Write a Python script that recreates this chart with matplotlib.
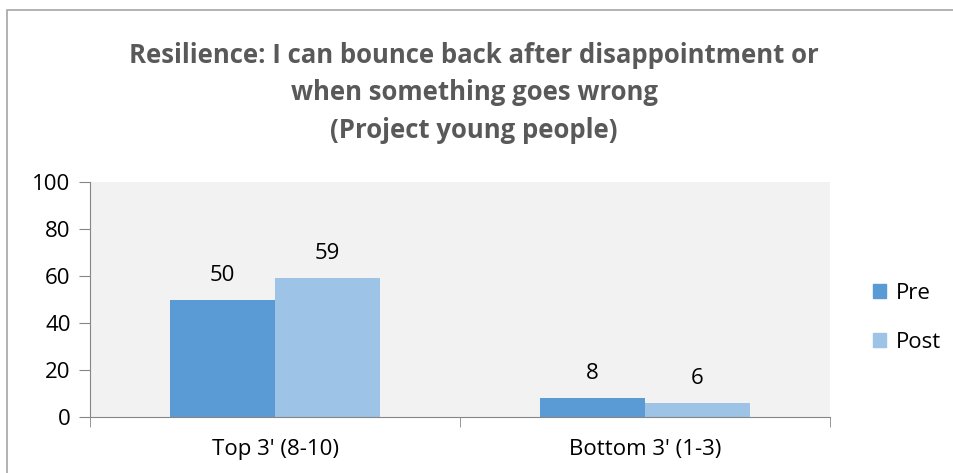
import matplotlib
matplotlib.use("Agg")
import matplotlib.pyplot as plt
from matplotlib.patches import Rectangle, Patch
import numpy as np

categories = ["Top 3' (8-10)", "Bottom 3' (1-3)"]
pre = [50, 8]
post = [59, 6]
series_names = ["Pre", "Post"]
y_ticks = [0, 20, 40, 60, 80, 100]

plt.rcParams['font.family'] = ['Open Sans', 'DejaVu Sans']

fig = plt.figure(figsize=(9.54, 4.73), dpi=100)
fig.patch.set_facecolor("white")

# chart frame
fig.patches.append(Rectangle((7 / 954, -0.1), 1.2, 1 - 10 / 473 + 0.1,
                             transform=fig.transFigure, fill=False,
                             edgecolor="#A6A6A6", linewidth=1.2))

ax = fig.add_axes([90 / 954, 1 - 417 / 473, 740 / 954, 235 / 473])
ax.set_facecolor("#F2F2F2")

x = np.arange(len(categories))
w = 0.284
c_pre, c_post = "#5B9BD5", "#9DC3E6"
b1 = ax.bar(x - w / 2, pre, w, color=c_pre)
b2 = ax.bar(x + w / 2, post, w, color=c_post)

for bars, vals in ((b1, pre), (b2, post)):
    for rect, v in zip(bars, vals):
        ax.annotate(f"{v}", (rect.get_x() + rect.get_width() / 2, v),
                    xytext=(0, 10), textcoords="offset points",
                    ha="center", va="bottom", fontsize=16, color="#000000")

ax.set_xlim(-0.5, len(categories) - 0.5)
ax.set_ylim(0, 100)
ax.set_yticks(y_ticks)
ax.set_xticks(x)
ax.set_xticklabels(categories)
ax.set_xticks([-0.5, 0.5, 1.5], minor=True)
ax.tick_params(axis="x", which="major", length=0, labelsize=16, pad=16)
ax.tick_params(axis="x", which="minor", length=7, color="#868686", direction="out")
ax.tick_params(axis="y", length=8, color="#868686", labelsize=16, pad=6)

for side in ("top", "right"):
    ax.spines[side].set_visible(False)
for side in ("left", "bottom"):
    ax.spines[side].set_color("#868686")

fig.text(0.497, 0.912,
         "Resilience: I can bounce back after disappointment or\nwhen something goes wrong\n(Project young people)",
         ha="center", va="top", fontsize=18.5, fontweight="bold", color="#595959",
         linespacing=1.51)

handles = [Patch(color=c_pre), Patch(color=c_post)]
fig.legend(handles, series_names, loc="center left",
           bbox_to_anchor=(0.894, 1 - 318 / 473), frameon=False, fontsize=16,
           handlelength=0.6, handleheight=0.6, handletextpad=0.45,
           labelspacing=1.25)

fig.savefig("out.png", dpi=100)
